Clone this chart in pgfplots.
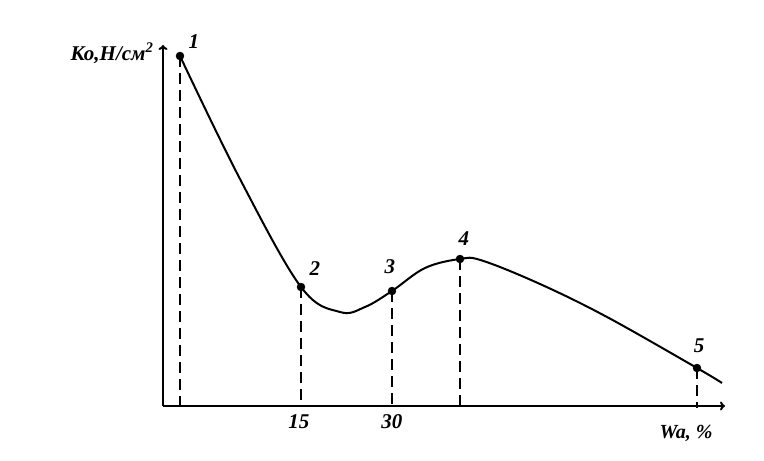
\documentclass[border=0pt]{standalone}
\usepackage{fontspec}
\setmainfont{Liberation Serif}
\usepackage{pgfplots}
\pgfplotsset{compat=1.18}
\usetikzlibrary{arrows.meta}
\begin{document}
\begin{tikzpicture}
\begin{axis}[
  scale only axis,
  x=1pt, y=1pt,
  xmin=163, xmax=725, ymin=0, ymax=361,
  axis lines=left,
  axis line style={line width=2pt, -{To[length=5pt,width=9pt]}},
  xtick={299,392}, xticklabels={15,30},
  ytick=\empty,
  major tick length=0pt,
  xticklabel style={font=\fontsize{21}{21}\selectfont\bfseries\itshape, yshift=-5pt},
  /pgf/number format/assume math mode=true,
  clip=false,
]
\path (axis cs:0,-55) rectangle (axis cs:764,406);
% curve
\addplot[black, line width=2pt, smooth, tension=0.6] coordinates {
(180,350) (240,227) (301,119) (340,94) (365,99) (392,115)
(425,138) (460,147) (482,145.5) (540,122) (607,89) (697,38) (722,23)};
% drop lines
\addplot[black, line width=2.4pt, dash pattern=on 11pt off 6pt] coordinates {(180,350) (180,-5)};
\addplot[black, line width=2.4pt, dash pattern=on 11pt off 6pt] coordinates {(301,119) (301,0)};
\addplot[black, line width=2.4pt, dash pattern=on 11pt off 6pt] coordinates {(392,115) (392,0)};
\addplot[black, line width=2.4pt, dash pattern=on 11pt off 6pt] coordinates {(460,147) (460,-5)};
\addplot[black, line width=2.4pt, dash pattern=on 11pt off 6pt] coordinates {(697,38) (697,-2)};
% points
\addplot[only marks, mark=*, mark size=4pt, black] coordinates {
(180,350) (301,119) (392,115) (460,147) (697,38)};
% labels
\node[anchor=east, font=\fontsize{21}{21}\selectfont\bfseries\itshape] at (axis cs:157,353) {Ко,Н/см\textsuperscript{2}};
\node[font=\fontsize{20}{20}\selectfont\bfseries\itshape] at (axis cs:686,-27) {Wa, \%};
\node[font=\fontsize{21}{21}\selectfont\bfseries\itshape] at (axis cs:194,364) {1};
\node[font=\fontsize{21}{21}\selectfont\bfseries\itshape] at (axis cs:315,137) {2};
\node[font=\fontsize{21}{21}\selectfont\bfseries\itshape] at (axis cs:390,139) {3};
\node[font=\fontsize{21}{21}\selectfont\bfseries\itshape] at (axis cs:464,167) {4};
\node[font=\fontsize{21}{21}\selectfont\bfseries\itshape] at (axis cs:699,60) {5};
\end{axis}
\end{tikzpicture}
\end{document}
